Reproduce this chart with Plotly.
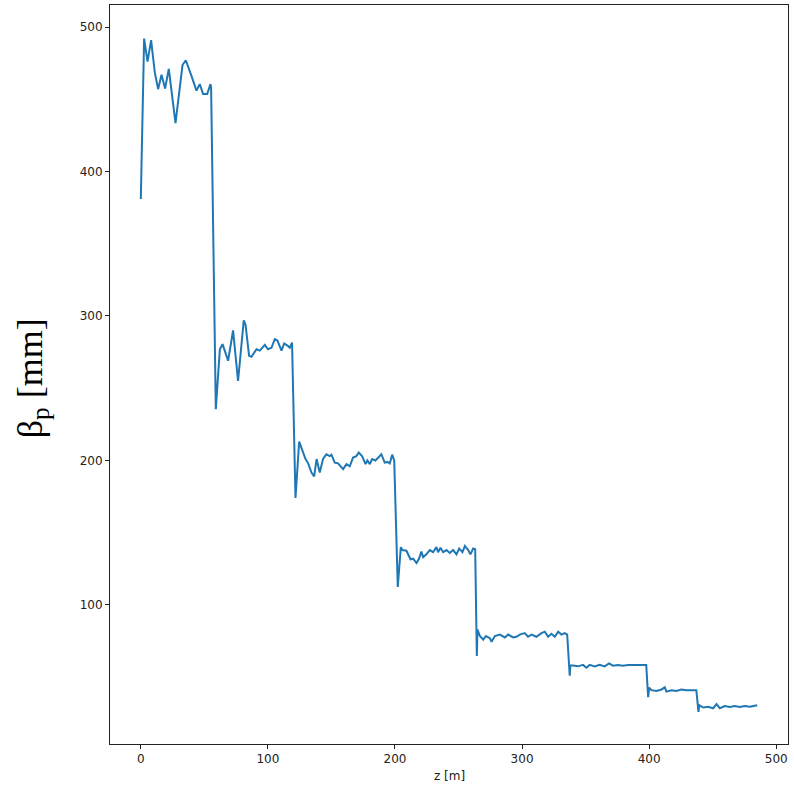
import plotly.graph_objects as go

# Beam beta function along the line, one list pair per lattice section
z_s1 = [0, 2.6, 5.3, 8.1, 11, 13.6, 16.3, 19.1, 22, 27.3, 32.8, 35.4, 39.9,
        43.8, 46.4, 49, 52.2, 54.8, 55.3]
beta_s1 = [381, 492, 476, 491, 468.6, 457, 467, 457.5, 471, 433.5, 473.7, 477,
           466, 456, 460.5, 453.6, 453.6, 460.5, 458]

z_s2 = [59, 62.2, 64.3, 68.7, 72.6, 76.5, 81, 82.4, 85.2, 87.1, 91, 93.6, 97.6,
        100, 102.8, 105.4, 107.5, 110.7, 112.8, 115.4, 117.2, 119]
beta_s2 = [235.5, 277, 280.5, 269, 290, 255, 297, 294, 272.4, 271.7, 277, 276,
           280, 277, 278, 284, 283, 276, 281, 279.5, 278, 281.6]

z_s3 = [121.7, 124.6, 126.4, 129.6, 131.7, 134.3, 136.4, 138.3, 140.8, 143.4,
        146, 148.7, 150, 152.6, 155.2, 159.2, 161.8, 164.4, 167, 169.6, 171.5,
        174.1, 176.8, 178.3, 180.2, 182, 184.6, 187.3, 189.3, 191.9, 194, 195.9,
        197.8, 199.4]
beta_s3 = [174, 213, 209, 201, 198, 191.6, 189, 201, 191.6, 201, 204.3, 203,
           204, 198.5, 198, 194, 197.5, 196, 202, 203, 205.4, 203, 197.5, 200,
           197.5, 201, 200, 202.5, 204.3, 198.5, 199, 198, 204, 200]

z_s4 = [202.2, 204.6, 205.8, 209, 212.2, 214.3, 216.9, 218.9, 220.8, 222.1,
        224.7, 227.4, 230, 232.6, 233.9, 235.8, 237.9, 240.5, 243.1, 245.7,
        248.4, 250.5, 253.1, 255, 257.6, 259.4, 261.5, 263.1]
beta_s4 = [112.4, 140, 138, 137.5, 131.6, 132, 129, 132, 137, 133, 135, 138,
           136.5, 140, 136.5, 139.6, 136.5, 138, 136, 138, 135, 139, 136.5,
           140.8, 138, 135, 139, 138.5]

z_s5 = [264.4, 264.9, 266.8, 269.4, 271.5, 274.6, 276, 278.6, 282.5, 286.5,
        289, 293, 295.6, 298.2, 302.1, 304.7, 307.4, 311.3, 315.2, 317.9,
        320.5, 323.1, 325.7, 328.4, 331, 333.6, 335.5]
beta_s5 = [64.6, 83, 78.5, 76, 78.5, 77, 74.5, 78.5, 79.5, 77.5, 79.5, 77.5,
           78, 79.5, 80.5, 78, 79.5, 78, 80.5, 81.5, 78, 80, 78, 81.5, 79.5,
           80.5, 79.5]

z_s6 = [337.5, 338, 340.1, 344, 348, 350.6, 353.2, 357.1, 361, 365, 368.4,
        371.5, 375.4, 379.4, 383.3, 387.2, 391.2, 395.1, 397.7]
beta_s6 = [51, 58, 58, 57.5, 58.5, 56.5, 58.5, 57.5, 58.5, 57.5, 59.5, 58,
           58.5, 58, 58.5, 58.5, 59, 58.5, 58.5]

z_s7 = [399.2, 400, 401.8, 405.7, 409.7, 412.3, 413.6, 417.5, 421.4, 425.4,
        429.3, 433.2, 437.1]
beta_s7 = [36.2, 42.7, 41, 40.5, 41.5, 43, 40, 41, 40.5, 41.5, 41, 41, 41]

z_s8 = [438.8, 439.4, 442.5, 446.4, 450.4, 453, 455.6, 459.5, 463.5, 467.4,
        471.3, 475.2, 479.2, 485]
beta_s8 = [26, 30.6, 29, 29.5, 28.5, 31.3, 28.5, 30, 29.3, 30, 29.3, 30, 29.5,
           30.6]

x_ticks = [0, 100, 200, 300, 400, 500]
y_ticks = [100, 200, 300, 400, 500]

z = z_s1 + z_s2 + z_s3 + z_s4 + z_s5 + z_s6 + z_s7 + z_s8
beta = beta_s1 + beta_s2 + beta_s3 + beta_s4 + beta_s5 + beta_s6 + beta_s7 + beta_s8

fig = go.Figure(
    go.Scatter(x=z, y=beta, mode="lines",
               line=dict(color="#1f77b4", width=2), showlegend=False)
)

axis_common = dict(
    showgrid=False, zeroline=False,
    showline=True, linecolor="#222", linewidth=1, mirror=True,
    ticks="outside", ticklen=4, tickwidth=1, tickcolor="#222",
    tickfont=dict(family="DejaVu Sans", size=12, color="#222"),
)

fig.update_layout(
    width=794, height=790, autosize=False,
    margin=dict(l=110, r=6, t=5, b=46),
    paper_bgcolor="white", plot_bgcolor="white",
    xaxis=dict(range=[-24.25, 509.25], tickvals=x_ticks, **axis_common),
    yaxis=dict(range=[3.75, 515.25], tickvals=y_ticks, **axis_common),
    annotations=[
        dict(text="z [m]", xref="paper", yref="paper", x=0.5, y=-0.0433,
             xanchor="center", yanchor="middle", showarrow=False,
             font=dict(family="DejaVu Sans", size=12, color="#222")),
        dict(text="β<sub>p</sub> [mm]", xref="paper", yref="paper",
             x=-0.115, y=0.495, xanchor="center", yanchor="middle",
             textangle=-90, showarrow=False,
             font=dict(family="Liberation Serif", size=36, color="black")),
    ],
)

fig.write_html("out.html")
